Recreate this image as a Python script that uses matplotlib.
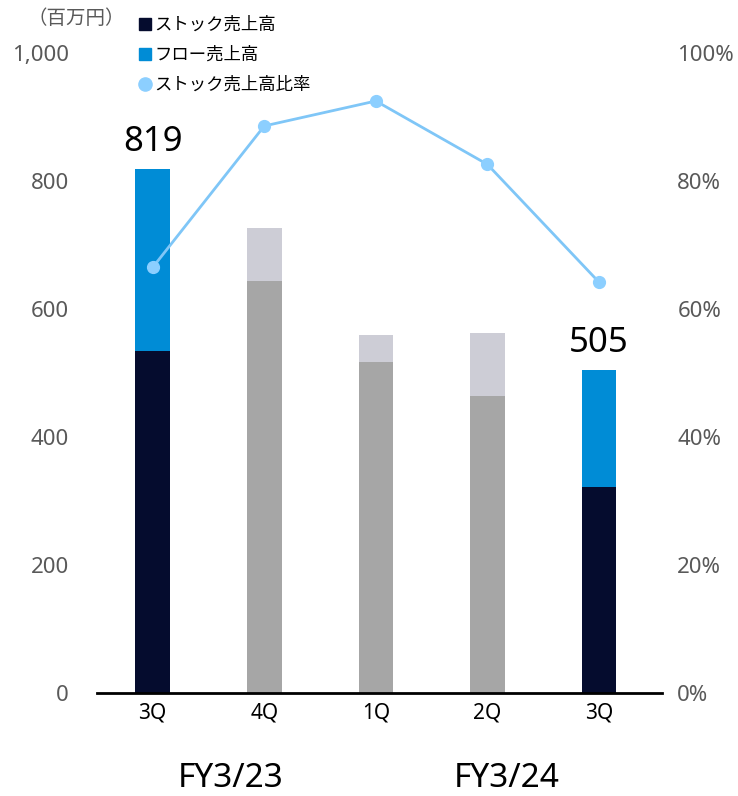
import matplotlib.pyplot as plt
import numpy as np
from matplotlib.lines import Line2D

plt.rcParams["font.family"] = ["Noto Sans", "Noto Sans CJK JP"]

quarters = ["3Q", "4Q", "1Q", "2Q", "3Q"]
stock_sales = [534, 644, 517, 464, 322]
flow_sales = [285, 83, 42, 98, 183]
stock_ratio = [66.5, 88.6, 92.5, 82.6, 64.2]
fiscal_years = ["FY3/23", "FY3/24"]
total_labels = {0: 819, 4: 505}

NAVY = "#050C2E"
BLUE = "#008CD6"
GRAY = "#A6A6A6"
LIGHT_GRAY = "#CDCDD6"
LINE = "#7FC6F7"
MARKER = "#8CCFFF"
TICK = "#595959"

fig = plt.figure(figsize=(7.38, 7.96), dpi=100)
ax = fig.add_axes([0.131, 0.1294, 0.766, 0.804])
ax2 = ax.twinx()

x = np.arange(len(quarters))
highlight = [True, False, False, False, True]
stock_colors = [NAVY if h else GRAY for h in highlight]
flow_colors = [BLUE if h else LIGHT_GRAY for h in highlight]

ax.bar(x, stock_sales, width=0.31, color=stock_colors, zorder=2)
ax.bar(x, flow_sales, bottom=stock_sales, width=0.31, color=flow_colors, zorder=2)

for i, total in total_labels.items():
    ax.text(x[i], stock_sales[i] + flow_sales[i] + 28, f"{total:,}",
            ha="center", va="baseline", fontsize=25, color="black")

ax2.plot(x, stock_ratio, color=LINE, lw=2, marker="o", ms=8.5,
         mfc=MARKER, mec=MARKER, zorder=3)

ax.set_xlim(-0.502, len(quarters) - 0.435)
ax.set_ylim(0, 1000)
ax2.set_ylim(0, 100)
ax.set_yticks(range(0, 1001, 200))
ax.set_yticklabels([f"{v:,}" for v in range(0, 1001, 200)])
ax2.set_yticks(range(0, 101, 20))
ax2.set_yticklabels([f"{v}%" for v in range(0, 101, 20)])
ax.set_xticks(x)
ax.set_xticklabels(quarters)

for a in (ax, ax2):
    for side in ("top", "left", "right", "bottom"):
        a.spines[side].set_visible(False)
    a.tick_params(length=0, labelsize=16, labelcolor=TICK)
ax.spines["bottom"].set_visible(True)
ax.spines["bottom"].set_linewidth(2)
ax.spines["bottom"].set_color("black")
ax.tick_params(axis="y", pad=20)
ax.tick_params(axis="x", pad=7, labelsize=15, labelcolor="black")
ax2.tick_params(axis="y", pad=11)

# fiscal year labels under the quarter ticks
for xpos, fy in zip([0.70, 3.17], fiscal_years):
    ax.text(xpos, -0.133, fy, transform=ax.get_xaxis_transform(),
            ha="center", va="center", fontsize=24, color="black")

fig.text(0.103, 0.977, "（百万円）", ha="center", va="center",
         fontsize=14, color=TICK, family=["Noto Sans CJK JP"])

handles = [
    Line2D([], [], ls="none", marker="s", ms=8.5, mfc=NAVY, mec=NAVY),
    Line2D([], [], ls="none", marker="s", ms=8.5, mfc=BLUE, mec=BLUE),
    Line2D([], [], ls="none", marker="o", ms=9.5, mfc=MARKER, mec=MARKER),
]
labels = ["ストック売上高", "フロー売上高", "ストック売上高比率"]
fig.legend(handles, labels, loc="upper left", bbox_to_anchor=(0.164, 1.0),
           frameon=False, handletextpad=0.0, handlelength=1.0,
           labelspacing=0.7, prop={"family": "Noto Sans CJK JP", "size": 12.5})

fig.savefig("out.png", dpi=100)
